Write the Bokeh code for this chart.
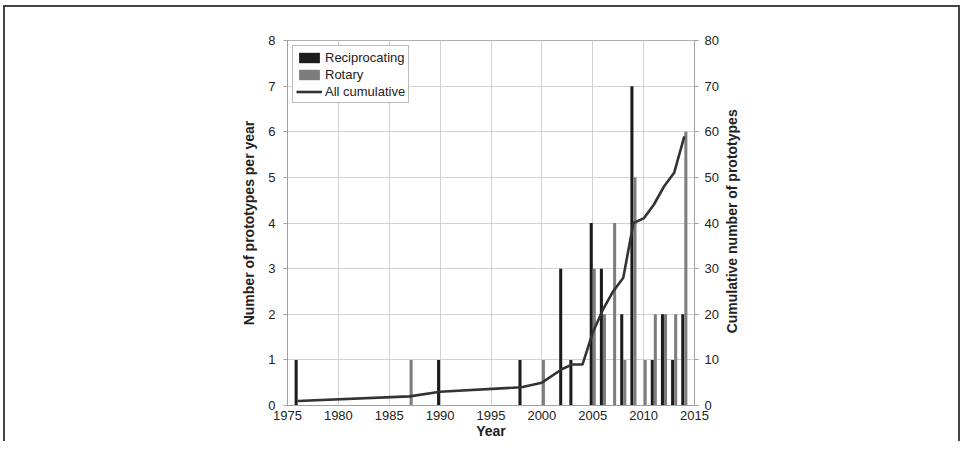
import math
from bokeh.plotting import figure, ColumnDataSource
from bokeh.models import Range1d, LinearAxis, FixedTicker, Spacer
from bokeh.layouts import row, column
from bokeh.core.properties import value
from bokeh.transform import dodge
from bokeh.embed import file_html
from bokeh.resources import INLINE

# ---- data ----
recip_years = [1976, 1990, 1998, 2002, 2003, 2005, 2006, 2008, 2009, 2011, 2012, 2013, 2014]
recip_counts = [1, 1, 1, 3, 1, 4, 3, 2, 7, 1, 2, 1, 2]

rotary_years = [1987, 2000, 2005, 2006, 2007, 2008, 2009, 2010, 2011, 2012, 2013, 2014]
rotary_counts = [1, 1, 3, 2, 4, 1, 5, 1, 2, 2, 2, 6]

cum_years = [1976, 1987, 1990, 1998, 2000, 2002, 2003, 2004, 2005, 2006, 2007, 2008,
             2009, 2010, 2011, 2012, 2013, 2014]
cum_values = [1, 2, 3, 4, 5, 8, 9, 9, 16, 21, 25, 28, 40, 41, 44, 48, 51, 59]

x_ticks = [1975, 1980, 1985, 1990, 1995, 2000, 2005, 2010, 2015]
left_ticks = [0, 1, 2, 3, 4, 5, 6, 7, 8]
right_ticks = [0, 10, 20, 30, 40, 50, 60, 70, 80]
right_title = "Cumulative number of prototypes"

FONT = "Liberation Sans"
TXT = "#222222"
H = 434

p = figure(width=716, height=H, output_backend="svg", toolbar_location=None,
           x_range=Range1d(1975, 2015), y_range=Range1d(0, 8),
           min_border_left=282, min_border_right=26, min_border_top=33,
           min_border_bottom=36)
p.extra_y_ranges = {"cum": Range1d(0, 80)}

p.outline_line_color = "#b0b0b0"
p.background_fill_color = "white"
p.border_fill_color = "white"

# grids
p.xgrid.ticker = FixedTicker(ticks=x_ticks)
p.ygrid.ticker = FixedTicker(ticks=left_ticks)
for g in (p.xgrid, p.ygrid):
    g.grid_line_color = "#d2d2d2"
    g.grid_line_width = 1

# axes
p.xaxis.ticker = FixedTicker(ticks=x_ticks)
p.yaxis.ticker = FixedTicker(ticks=left_ticks)
p.xaxis.axis_label = "Year"
p.yaxis.axis_label = "Number of prototypes per year"

right = LinearAxis(y_range_name="cum", ticker=FixedTicker(ticks=right_ticks))
p.add_layout(right, "right")

for ax in (p.xaxis[0], p.yaxis[0], right):
    ax.axis_line_color = "#a0a0a0"
    ax.major_tick_line_color = "#a0a0a0"
    ax.minor_tick_line_color = None
    ax.major_tick_in = 0
    ax.major_tick_out = 4
    ax.major_label_text_font = FONT
    ax.major_label_text_font_size = "13px"
    ax.major_label_text_color = TXT
    ax.axis_label_text_font = FONT
    ax.axis_label_text_font_size = "14px"
    ax.axis_label_text_font_style = "bold"
    ax.axis_label_text_color = TXT

p.xaxis.major_tick_out = 0
p.xaxis.major_label_standoff = 5
p.xaxis.axis_label_standoff = 0
p.yaxis.major_label_standoff = 8
p.yaxis.axis_label_standoff = 8
right.major_label_standoff = 6

# bars
rsrc = ColumnDataSource(dict(year=recip_years, count=recip_counts))
gsrc = ColumnDataSource(dict(year=rotary_years, count=rotary_counts))
p.vbar(x=dodge("year", -0.15, range=p.x_range), top="count", bottom=0, width=0.3,
       source=rsrc, fill_color="#1c1c1c", line_color=None, legend_label="Reciprocating")
p.vbar(x=dodge("year", 0.15, range=p.x_range), top="count", bottom=0, width=0.3,
       source=gsrc, fill_color="#7d7d7d", line_color=None, legend_label="Rotary")

# cumulative line
p.line(cum_years, cum_values, y_range_name="cum", line_color="#333333",
       line_width=2.6, legend_label="All cumulative")

leg = p.legend[0]
leg.location = "top_left"
leg.margin = 5
leg.padding = 3
leg.spacing = 1
leg.glyph_width = 26
leg.glyph_height = 13
leg.label_height = 16
leg.label_standoff = 3
leg.label_text_font = FONT
leg.label_text_font_size = "13px"
leg.label_text_color = TXT
leg.border_line_color = "#777777"
leg.border_line_width = 1
leg.background_fill_alpha = 1

# right-hand panel carrying the right axis title (reads bottom-to-top)
QW = 237
q = figure(width=QW, height=H, output_backend="svg", toolbar_location=None,
           x_range=Range1d(0, QW), y_range=Range1d(0, H),
           min_border=0, min_border_left=0, min_border_right=0,
           min_border_top=0, min_border_bottom=0)
q.axis.visible = False
q.grid.visible = False
q.outline_line_color = None
q.border_fill_color = "white"
q.text(x=[10], y=[H - 215], text=[right_title], angle=math.pi / 2,
       text_align="center", text_baseline="middle",
       text_font=value(FONT), text_font_size="14px", text_font_style="bold",
       text_color=TXT)

inner = row(p, q, spacing=0,
            styles={"border-top": "2px solid #444444",
                    "border-left": "2px solid #444444",
                    "border-right": "2px solid #444444"})
layout = column(Spacer(height=5), row(Spacer(width=3), inner, spacing=0), spacing=0)

open("out.html", "w").write(file_html(layout, INLINE))
